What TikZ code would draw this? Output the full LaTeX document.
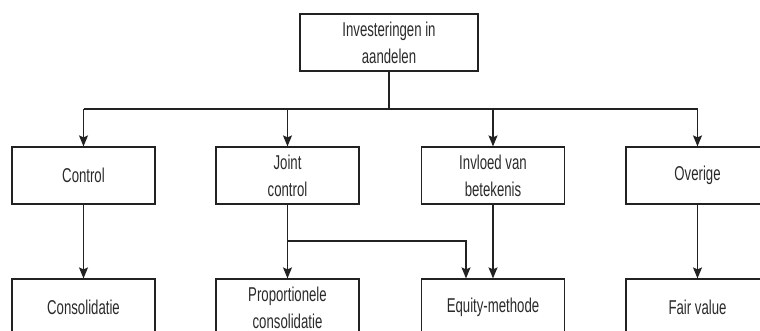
\documentclass[tikz,border=0pt]{standalone}
\usepackage{fontspec}
\setmainfont{Liberation Sans}[FakeStretch=0.66]
\usepackage{tikz}
\usetikzlibrary{
  arrows.meta,
  positioning,
  calc
}
\definecolor{invLine}{HTML}{222222}
\definecolor{invText}{HTML}{2A2A2A}
\tikzset{
  invnode/.style={
    draw=invLine, line width=1.2pt, minimum height=57pt, minimum width=143pt,
    inner sep=2pt, align=center, text=invText,
    font=\fontsize{20}{27}\selectfont
  },
  rootbox/.style={invnode, minimum width=178pt},
  catbox/.style={invnode},
  methodbox/.style={invnode},
  link/.style={line width=1.2pt, invLine},
  flow/.style={link, -{Stealth[length=11pt, width=9pt, inset=2pt]}}
}

\begin{document}
\begin{tikzpicture}[x=1pt, y=-1pt]
  \clip (0,0) rectangle (760,331);
  \node[rootbox] (root) at (389,42.5) {Investeringen in\\aandelen};
  % categorieen
  \node[catbox] (ctrl)  at (83.5,175.5)  {Control};
  \node[catbox] (joint) at (287.5,175.5) {Joint\\control};
  \node[catbox] (infl)  at (493,175.5)   {Invloed van\\betekenis};
  \node[catbox] (other) at (697.5,175.5) {Overige};
  % verwerking
  \node[methodbox] (cons)   at (83.5,307.5)  {Consolidatie};
  \node[methodbox] (prop)   at (287.5,307.5) {Proportionele\\consolidatie};
  \node[methodbox] (equity) at (493,307.5)   {Equity-methode};
  \node[methodbox] (fair)   at (697.5,307.5) {Fair value};
  \coordinate (bus) at (389,109);
  \coordinate (split) at (287.5,241);
  \draw[link] (root) -- (bus);
  \draw[link] (bus -| ctrl) -- (bus -| other);
  \foreach \n in {ctrl,joint,infl,other}{\draw[flow] (bus -| \n) -- (\n);}
  \draw[flow] (ctrl) -- (cons);
  \draw[flow] (joint) -- (prop);
  \draw[flow] (infl) -- (equity);
  \draw[flow] (other) -- (fair);
  \draw[flow] (split) -| ([xshift=-27pt]equity.north);
\end{tikzpicture}
\end{document}
